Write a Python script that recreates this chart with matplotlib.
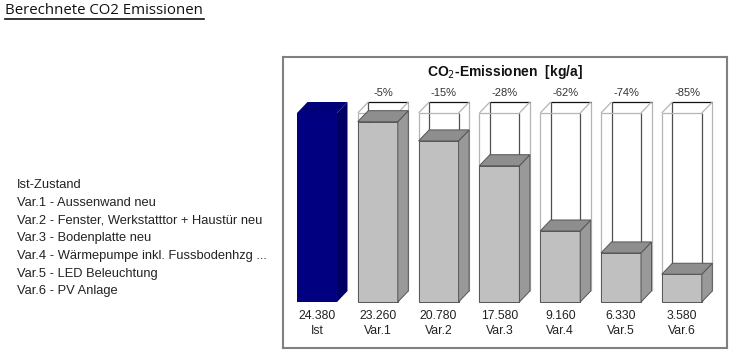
import matplotlib
matplotlib.use("Agg")
import matplotlib.pyplot as plt
from matplotlib.patches import Polygon
from matplotlib.lines import Line2D

# data
categories = ["Ist", "Var.1", "Var.2", "Var.3", "Var.4", "Var.5", "Var.6"]
emissions = [24380, 23260, 20780, 17580, 9160, 6330, 3580]
reductions = ["", "-5%", "-15%", "-28%", "-62%", "-74%", "-85%"]
legend_lines = [
    "Ist-Zustand",
    "Var.1 - Aussenwand neu",
    "Var.2 - Fenster, Werkstatttor + Haustür neu",
    "Var.3 - Bodenplatte neu",
    "Var.4 - Wärmepumpe inkl. Fussbodenhzg ...",
    "Var.5 - LED Beleuchtung",
    "Var.6 - PV Anlage",
]

W, H = 735, 353
fig = plt.figure(figsize=(W / 100, H / 100), dpi=100)

# heading with underline
fig.text(5 / W, 1 - 11 / H, "Berechnete CO2 Emissionen", family="Open Sans",
         fontsize=10.8, va="center", ha="left", color="#111111", fontweight="medium")
fig.add_artist(Line2D([5 / W, 204 / W], [1 - 18.5 / H] * 2, color="#111111", lw=1.2))

# left description list
for k, s in enumerate(legend_lines):
    fig.text(17 / W, 1 - (185 + k * 17.7) / H, s, family="Liberation Sans",
             fontsize=9.3, va="center", ha="left", color="#222222")

# chart panel (pixels: x 283..727, y 57..348)
ax = fig.add_axes([283 / W, 1 - 348 / H, 444 / W, 291 / H])
pxx = 60.8            # px per bar
pxy = 189 / 24380     # px per kg/a
x0px, y0px = 317, 302
ax.set_xlim((283 - x0px) / pxx, (727 - x0px) / pxx)
ax.set_ylim(-(348 - y0px) / pxy, (y0px - 57) / pxy)
ax.set_xticks([])
ax.set_yticks([])
for sp in ax.spines.values():
    sp.set_color("#808080")
    sp.set_linewidth(1.5)

bw = 40 / pxx
dx = 10.5 / pxx
dy = 11 / pxy
full = emissions[0]


def box(xc, h, front, side, top, edge, lw, z):
    a, b = xc - bw / 2, xc + bw / 2
    ax.add_patch(Polygon([(a, 0), (b, 0), (b, h), (a, h)], closed=True,
                         fc=front, ec=edge, lw=lw, zorder=z))
    ax.add_patch(Polygon([(b, 0), (b + dx, dy), (b + dx, h + dy), (b, h)], closed=True,
                         fc=side, ec=edge, lw=lw, zorder=z))
    ax.add_patch(Polygon([(a, h), (a + dx, h + dy), (b + dx, h + dy), (b, h)], closed=True,
                         fc=top, ec=edge, lw=lw, zorder=z))
    return a, b


def wire(xc, h):
    a, b = xc - bw / 2, xc + bw / 2
    light, dark = "#b4b4b4", "#505050"
    segs = [
        ((a, a), (0, h), light),
        ((b, b), (0, h), dark),
        ((a + dx, a + dx), (dy, h + dy), dark),
        ((b + dx, b + dx), (dy, h + dy), light),
        ((a, b), (h, h), light),
        ((a + dx, b + dx), (h + dy, h + dy), "#111111"),
        ((a, a + dx), (h, h + dy), light),
        ((b, b + dx), (h, h + dy), light),
    ]
    for xs, ys, c in segs:
        ax.plot(xs, ys, color=c, lw=0.9, zorder=1, solid_capstyle="butt")


for i, v in enumerate(emissions):
    if i == 0:
        box(i, v, "#000080", "#000064", "#000078", "none", 0, 3)
    else:
        wire(i, full)
        box(i, v, "#c0c0c0", "#999999", "#8e8e8e", "#555555", 0.7, 3)
    lab = f"{v:,}".replace(",", ".")
    ax.text(i, -(316 - y0px) / pxy, lab, ha="center", va="center",
            family="Liberation Sans", fontsize=8.8, color="#222222")
    ax.text(i, -(331 - y0px) / pxy, categories[i], ha="center", va="center",
            family="Liberation Sans", fontsize=8.8, color="#222222")
    if reductions[i]:
        ax.text(i + dx / 2, (y0px - 93) / pxy, reductions[i], ha="center", va="center",
                family="Liberation Sans", fontsize=8, color="#333333")

ax.text(0.5, 1 - (72 - 57) / 291, r"CO$_2$-Emissionen  [kg/a]", transform=ax.transAxes,
        ha="center", va="center", family="Liberation Sans", fontsize=10,
        fontweight="bold", color="#111111")

fig.savefig("out.png", dpi=100, facecolor="white")
